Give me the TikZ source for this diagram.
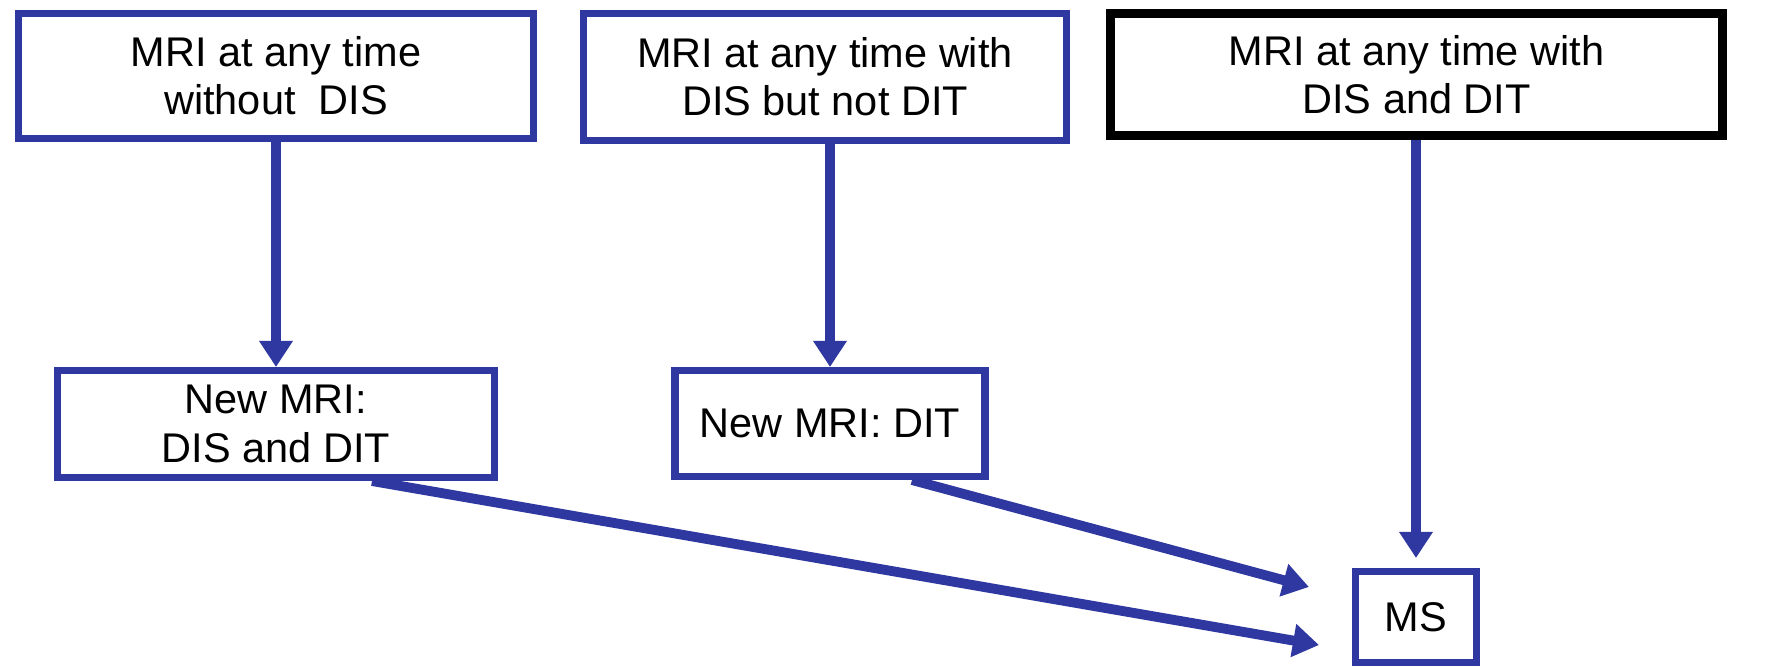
\documentclass[tikz,border=0pt]{standalone}
\usepackage{fontspec}
\setmainfont{Liberation Sans}
\usetikzlibrary{arrows.meta}
\definecolor{mriblue}{RGB}{46,56,160}

\begin{document}
\begin{tikzpicture}[
  mribox/.style={draw=mriblue,line width=2pt,fill=white,align=center,inner sep=0pt,
    font=\fontsize{11.8}{13.7}\selectfont},
  flow/.style={draw=mriblue,line width=2.8pt,-{Triangle[length=2.6mm,width=3.2mm]}}
]
\useasboundingbox (0,0) rectangle (17.66,6.66);

% first MRI
\node[mribox,minimum width=5.15cm,minimum height=1.25cm] (nodis) at (2.76,5.90) {MRI at any time\\without\ \ DIS};
\node[mribox,minimum width=4.83cm,minimum height=1.27cm] (disonly) at (8.25,5.89) {MRI at any time with\\DIS but not DIT};
\node[mribox,draw=black,line width=2.5pt,minimum width=6.12cm,minimum height=1.22cm] (disdit) at (14.165,5.915) {MRI at any time with\\DIS and DIT};

% follow-up MRI
\node[mribox,minimum width=4.37cm,minimum height=1.07cm] (newboth) at (2.76,2.42) {New MRI:\\DIS and DIT};
\node[mribox,minimum width=3.10cm,minimum height=1.06cm] (newdit) at (8.30,2.425) {New MRI: DIT};

\node[mribox,minimum width=1.21cm,minimum height=0.91cm] (ms) at (14.16,0.49) {MS};

\draw[flow] (nodis) -- (newboth);
\draw[flow] (disonly.south -| newdit.north) -- (newdit.north);
\draw[flow,shorten >=1mm] (disdit.south -| ms.north) -- (ms.north);
\draw[flow] ([xshift=8.2mm]newdit.south) -- ([xshift=-4.3mm,yshift=3mm]ms.west);
\draw[flow] ([xshift=9.6mm]newboth.south) -- ([xshift=-3.3mm,yshift=-2.8mm]ms.west);
\end{tikzpicture}
\end{document}
